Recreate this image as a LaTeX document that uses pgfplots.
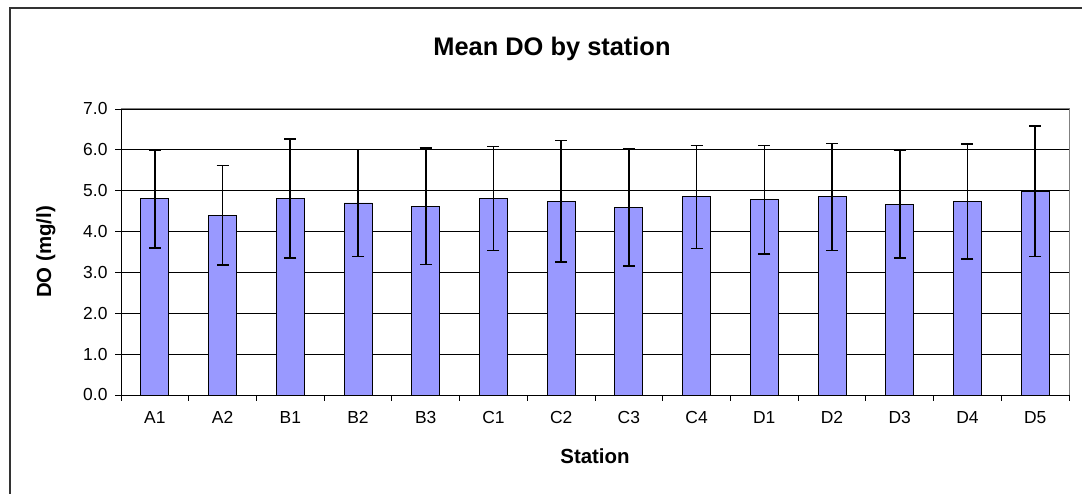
\documentclass[border=0pt]{standalone}
\usepackage{fontspec}
\setmainfont{Liberation Sans}
\usepackage{pgfplots}
\pgfplotsset{compat=1.18}
\definecolor{barblue}{HTML}{9999FF}
\begin{document}
\begin{tikzpicture}[x=1bp,y=1bp]
\path[use as bounding box] (0,0) rectangle (1082,494);
\draw[line width=1.2bp, black!80] (10,0) -- (10,486) -- (1082,486);
\begin{axis}[
  at={(121bp,99bp)}, anchor=south west,
  width=948bp, height=286bp, scale only axis,
  xmin=-0.5, xmax=13.5, ymin=0, ymax=7,
  xtick={0,...,13},
  xticklabels={A1,A2,B1,B2,B3,C1,C2,C3,C4,D1,D2,D3,D4,D5},
  major x tick style={draw=none},
  extra x ticks={-0.5,0.5,...,13.5},
  extra x tick labels={},
  extra x tick style={major tick length=6bp, tick align=outside, major x tick style={draw=black, line width=0.8bp}},
  xtick pos=bottom, ytick pos=left,
  ytick={0,1,...,7},
  /pgf/number format/fixed,
  /pgf/number format/fixed zerofill,
  /pgf/number format/precision=1,
  /pgf/number format/assume math mode=true,
  y tick label style={font=\fontsize{17.5}{20}\selectfont, xshift=-4bp},
  x tick label style={font=\fontsize{17.5}{20}\selectfont, yshift=-7bp},
  tick align=outside,
  major tick length=6bp,
  tick style={black, line width=0.8bp},
  ymajorgrids,
  grid style={black, line width=0.8bp},
  axis line style={black, line width=0.8bp},
  title={Mean DO by station},
  title style={at={(axis description cs:0.4546,1.19)}, anchor=center, font=\bfseries\fontsize{25.5}{30}\selectfont},
  xlabel={Station},
  xlabel style={at={(axis description cs:0.5,-0.213)}, anchor=center, font=\bfseries\fontsize{20.5}{24}\selectfont},
  ylabel={DO (mg/l)},
  ylabel style={at={(axis description cs:-0.0791,0.5)}, anchor=center, font=\bfseries\fontsize{20.5}{24}\selectfont},
  after end axis/.code={\draw[gray, line width=1bp] (rel axis cs:0,1) -- (rel axis cs:1,1) -- (rel axis cs:1,0);},
]
\addplot[ybar, bar width=28bp, fill=barblue, draw=black, line width=0.9bp,
  error bars/.cd, y dir=both, y explicit,
  error bar style={black, line width=1.6bp},
  error mark options={rotate=90, mark size=6bp, line width=1.6bp}]
  table[x=x, y=y, y error=e] {
x y e
0 4.80 1.20
1 4.40 1.22
2 4.81 1.45
3 4.70 1.31
4 4.62 1.43
5 4.81 1.27
6 4.74 1.49
7 4.59 1.44
8 4.85 1.26
9 4.78 1.33
10 4.85 1.31
11 4.67 1.31
12 4.74 1.41
13 4.99 1.60
};
\end{axis}
\end{tikzpicture}
\end{document}
